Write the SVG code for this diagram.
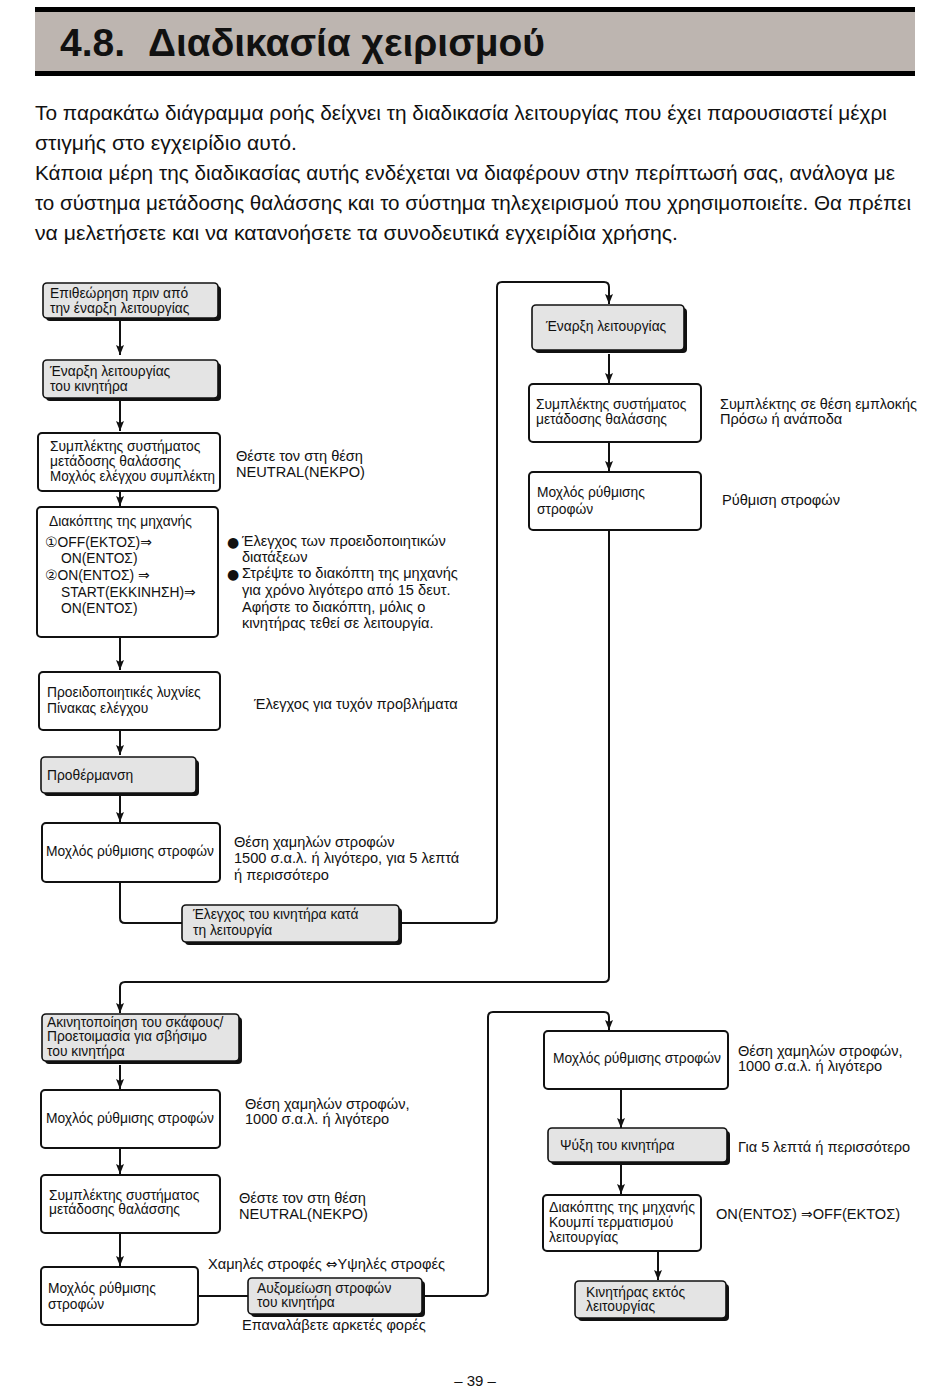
<svg xmlns="http://www.w3.org/2000/svg" width="950" height="1388" viewBox="0 0 950 1388">
<style>
text{font-family:"Liberation Sans","DejaVu Sans",Arial,sans-serif;fill:#111;}
.t{font-size:13.8px;}
.s{font-size:14.6px;}
.sym{font-family:"DejaVu Sans",sans-serif;font-size:14px;}
.body{font-size:20px;}
.title{font-size:38px;font-weight:bold;}
.box{fill:#fff;stroke:#111;stroke-width:2;}
.gbox{fill:#e4e4e4;stroke:#111;stroke-width:1.6;}
.shadow{fill:#111;stroke:none;}
.ln{fill:none;stroke:#111;stroke-width:2;}
</style>
<defs>
<marker id="ah" markerUnits="userSpaceOnUse" markerWidth="8" markerHeight="10" refX="4" refY="10" orient="0" viewBox="0 0 8 10">
<path d="M0,0 L4,10 L8,0 L4,2 z" fill="#111"/>
</marker>
</defs>

<!-- header -->
<g id="header">
<rect x="35" y="7" width="880" height="5" fill="#000"/>
<rect x="35" y="12" width="880" height="59" fill="#bdb5b0"/>
<rect x="35" y="71" width="880" height="5" fill="#000"/>
<text class="title" x="60" y="56" textLength="65" lengthAdjust="spacingAndGlyphs">4.8.</text>
<text class="title" x="148" y="56" textLength="397" lengthAdjust="spacingAndGlyphs">Διαδικασία χειρισμού</text>
</g>

<g id="intro">
<text class="body" x="35" y="120" textLength="852" lengthAdjust="spacingAndGlyphs">Το παρακάτω διάγραμμα ροής δείχνει τη διαδικασία λειτουργίας που έχει παρουσιαστεί μέχρι</text>
<text class="body" x="35" y="150" textLength="262" lengthAdjust="spacingAndGlyphs">στιγμής στο εγχειρίδιο αυτό.</text>
<text class="body" x="35" y="180" textLength="860" lengthAdjust="spacingAndGlyphs">Κάποια μέρη της διαδικασίας αυτής ενδέχεται να διαφέρουν στην περίπτωσή σας, ανάλογα με</text>
<text class="body" x="35" y="210" textLength="876" lengthAdjust="spacingAndGlyphs">το σύστημα μετάδοσης θαλάσσης και το σύστημα τηλεχειρισμού που χρησιμοποιείτε. Θα πρέπει</text>
<text class="body" x="35" y="240" textLength="643" lengthAdjust="spacingAndGlyphs">να μελετήσετε και να κατανοήσετε τα συνοδευτικά εγχειρίδια χρήσης.</text>
</g>

<!-- connectors -->
<g id="connectors">
<path class="ln" d="M120,321 V355" marker-end="url(#ah)"/>
<path class="ln" d="M120,401 V431" marker-end="url(#ah)"/>
<path class="ln" d="M120,492 V506" marker-end="url(#ah)"/>
<path class="ln" d="M120,638 V670" marker-end="url(#ah)"/>
<path class="ln" d="M120,731 V755" marker-end="url(#ah)"/>
<path class="ln" d="M120,796 V822" marker-end="url(#ah)"/>
<path class="ln" d="M120,883 V918 Q120,923 125,923 H183"/>
<path class="ln" d="M400,923 H492 Q497,923 497,918 V287 Q497,282 502,282 H604 Q609,282 609,287 V304" marker-end="url(#ah)"/>
<path class="ln" d="M609,354 V383" marker-end="url(#ah)"/>
<path class="ln" d="M609,443 V471" marker-end="url(#ah)"/>
<path class="ln" d="M609,531 V977 Q609,982 604,982 H125 Q120,982 120,987 V1013" marker-end="url(#ah)"/>
<path class="ln" d="M120,1065 V1089" marker-end="url(#ah)"/>
<path class="ln" d="M120,1149 V1174" marker-end="url(#ah)"/>
<path class="ln" d="M120,1234 V1266" marker-end="url(#ah)"/>
<path class="ln" d="M198,1296 H248"/>
<path class="ln" d="M424,1296 H483 Q488,1296 488,1291 V1017 Q488,1012 493,1012 H604 Q609,1012 609,1017 V1030" marker-end="url(#ah)"/>
<path class="ln" d="M621,1090 V1128" marker-end="url(#ah)"/>
<path class="ln" d="M621,1165 V1194" marker-end="url(#ah)"/>
<path class="ln" d="M658,1252 V1280" marker-end="url(#ah)"/>
</g>

<!-- nodes -->
<g id="n1">
<rect class="shadow" x="46" y="286" width="175" height="35" rx="4"/>
<rect class="gbox" x="43" y="283" width="175" height="35" rx="4"/>
<text class="t" x="50" y="298">Επιθεώρηση πριν από</text>
<text class="t" x="50" y="313">την έναρξη λειτουργίας</text>
</g>

<g id="n2">
<rect class="shadow" x="46" y="363" width="175" height="38" rx="4"/>
<rect class="gbox" x="43" y="360" width="175" height="38" rx="4"/>
<text class="t" x="50" y="376">Έναρξη λειτουργίας</text>
<text class="t" x="50" y="391">του κινητήρα</text>
</g>

<g id="n3">
<rect class="box" x="38" y="433" width="182" height="58" rx="4"/>
<text class="t" x="50" y="451">Συμπλέκτης συστήματος</text>
<text class="t" x="50" y="466">μετάδοσης θαλάσσης</text>
<text class="t" x="50" y="481" textLength="165" lengthAdjust="spacingAndGlyphs">Μοχλός ελέγχου συμπλέκτη</text>
<text class="s" x="236" y="461">Θέστε τον στη θέση</text>
<text class="s" x="236" y="477">NEUTRAL(NEKPO)</text>
</g>

<g id="n4">
<rect class="box" x="37" y="507" width="181" height="130" rx="4"/>
<text class="t" x="49" y="526">Διακόπτης της μηχανής</text>
<text class="t" x="45" y="547"><tspan class="sym" font-size="16">①</tspan>OFF(ΕΚΤΟΣ)<tspan class="sym" font-size="15">⇒</tspan></text>
<text class="t" x="61" y="563">ON(ΕΝΤΟΣ)</text>
<text class="t" x="45" y="580"><tspan class="sym" font-size="16">②</tspan>ON(ΕΝΤΟΣ) <tspan class="sym" font-size="15">⇒</tspan></text>
<text class="t" x="61" y="597">START(ΕΚΚΙΝΗΣΗ)<tspan class="sym" font-size="15">⇒</tspan></text>
<text class="t" x="61" y="613">ON(ΕΝΤΟΣ)</text>
<text class="sym" x="227" y="547" font-size="15">●</text>
<text class="s" x="242" y="546">Έλεγχος των προειδοποιητικών</text>
<text class="s" x="242" y="562">διατάξεων</text>
<text class="sym" x="227" y="579" font-size="15">●</text>
<text class="s" x="242" y="578">Στρέψτε το διακόπτη της μηχανής</text>
<text class="s" x="242" y="595">για χρόνο λιγότερο από 15 δευτ.</text>
<text class="s" x="242" y="612">Αφήστε το διακόπτη, μόλις ο</text>
<text class="s" x="242" y="628">κινητήρας τεθεί σε λειτουργία.</text>
</g>

<g id="n5">
<rect class="box" x="39" y="672" width="181" height="58" rx="4"/>
<text class="t" x="47" y="697">Προειδοποιητικές λυχνίες</text>
<text class="t" x="47" y="713">Πίνακας ελέγχου</text>
<text class="s" x="254" y="709">Έλεγχος για τυχόν προβλήματα</text>
</g>

<g id="n6">
<rect class="shadow" x="44" y="760" width="155" height="36" rx="4"/>
<rect class="gbox" x="41" y="757" width="155" height="36" rx="4"/>
<text class="t" x="47" y="780">Προθέρμανση</text>
</g>

<g id="n7">
<rect class="box" x="42" y="823" width="178" height="59" rx="4"/>
<text class="t" x="46" y="856" textLength="168" lengthAdjust="spacingAndGlyphs">Μοχλός ρύθμισης στροφών</text>
<text class="s" x="234" y="847">Θέση χαμηλών στροφών</text>
<text class="s" x="234" y="863">1500 σ.α.λ. ή λιγότερο, για 5 λεπτά</text>
<text class="s" x="234" y="880">ή περισσότερο</text>
</g>

<g id="n8">
<rect class="shadow" x="185" y="908" width="217" height="37" rx="4"/>
<rect class="gbox" x="182" y="905" width="217" height="37" rx="4"/>
<text class="t" x="193" y="919">Έλεγχος του κινητήρα κατά</text>
<text class="t" x="193" y="935">τη λειτουργία</text>
</g>

<g id="n9">
<rect class="shadow" x="535" y="308" width="152" height="45" rx="4"/>
<rect class="gbox" x="532" y="305" width="152" height="45" rx="4"/>
<text class="t" x="546" y="331">Έναρξη λειτουργίας</text>
</g>

<g id="n10">
<rect class="box" x="529" y="384" width="172" height="58" rx="4"/>
<text class="t" x="536" y="409">Συμπλέκτης συστήματος</text>
<text class="t" x="536" y="424">μετάδοσης θαλάσσης</text>
<text class="s" x="720" y="409" textLength="197" lengthAdjust="spacingAndGlyphs">Συμπλέκτης σε θέση εμπλοκής</text>
<text class="s" x="720" y="424">Πρόσω ή ανάποδα</text>
</g>

<g id="n11">
<rect class="box" x="529" y="472" width="172" height="58" rx="4"/>
<text class="t" x="537" y="497">Μοχλός ρύθμισης</text>
<text class="t" x="537" y="514">στροφών</text>
<text class="s" x="722" y="505">Ρύθμιση στροφών</text>
</g>

<g id="n12">
<rect class="shadow" x="45" y="1017" width="197" height="47" rx="4"/>
<rect class="gbox" x="42" y="1014" width="197" height="47" rx="4"/>
<text class="t" x="47" y="1027">Ακινητοποίηση του σκάφους/</text>
<text class="t" x="47" y="1041">Προετοιμασία για σβήσιμο</text>
<text class="t" x="47" y="1056">του κινητήρα</text>
</g>

<g id="n13">
<rect class="box" x="41" y="1090" width="179" height="58" rx="4"/>
<text class="t" x="46" y="1123" textLength="168" lengthAdjust="spacingAndGlyphs">Μοχλός ρύθμισης στροφών</text>
<text class="s" x="245" y="1109">Θέση χαμηλών στροφών,</text>
<text class="s" x="245" y="1124">1000 σ.α.λ. ή λιγότερο</text>
</g>

<g id="n14">
<rect class="box" x="41" y="1175" width="179" height="58" rx="4"/>
<text class="t" x="49" y="1200">Συμπλέκτης συστήματος</text>
<text class="t" x="49" y="1214">μετάδοσης θαλάσσης</text>
<text class="s" x="239" y="1203">Θέστε τον στη θέση</text>
<text class="s" x="239" y="1219">NEUTRAL(NEKPO)</text>
</g>

<g id="n15">
<rect class="box" x="41" y="1267" width="157" height="58" rx="4"/>
<text class="t" x="48" y="1293">Μοχλός ρύθμισης</text>
<text class="t" x="48" y="1309">στροφών</text>
</g>

<g id="n16">
<text class="s" x="208" y="1269">Χαμηλές στροφές <tspan class="sym" font-size="15">⇔</tspan>Υψηλές στροφές</text>
<rect class="shadow" x="251" y="1281" width="174" height="36" rx="4"/>
<rect class="gbox" x="248" y="1278" width="174" height="36" rx="4"/>
<text class="t" x="257" y="1293">Αυξομείωση στροφών</text>
<text class="t" x="257" y="1307">του κινητήρα</text>
<text class="s" x="242" y="1330">Επαναλάβετε αρκετές φορές</text>
</g>

<g id="n17">
<rect class="box" x="544" y="1031" width="184" height="58" rx="4"/>
<text class="t" x="553" y="1063" textLength="168" lengthAdjust="spacingAndGlyphs">Μοχλός ρύθμισης στροφών</text>
<text class="s" x="738" y="1056">Θέση χαμηλών στροφών,</text>
<text class="s" x="738" y="1071">1000 σ.α.λ. ή λιγότερο</text>
</g>

<g id="n18">
<rect class="shadow" x="551" y="1131" width="179" height="34" rx="4"/>
<rect class="gbox" x="548" y="1128" width="179" height="34" rx="4"/>
<text class="t" x="560" y="1150">Ψύξη του κινητήρα</text>
<text class="s" x="738" y="1152">Για 5 λεπτά ή περισσότερο</text>
</g>

<g id="n19">
<rect class="box" x="543" y="1195" width="158" height="56" rx="4"/>
<text class="t" x="549" y="1212" textLength="146" lengthAdjust="spacingAndGlyphs">Διακόπτης της μηχανής</text>
<text class="t" x="549" y="1227">Κουμπί τερματισμού</text>
<text class="t" x="549" y="1242">λειτουργίας</text>
<text class="s" x="716" y="1219">ON(ΕΝΤΟΣ) <tspan class="sym" font-size="15">⇒</tspan>OFF(ΕΚΤΟΣ)</text>
</g>

<g id="n20">
<rect class="shadow" x="578" y="1284" width="151" height="37" rx="4"/>
<rect class="gbox" x="575" y="1281" width="151" height="37" rx="4"/>
<text class="t" x="586" y="1297">Κινητήρας εκτός</text>
<text class="t" x="586" y="1311">λειτουργίας</text>
</g>

<g id="page">
<text x="475" y="1386" font-size="15" text-anchor="middle">– 39 –</text>
</g>
</svg>
